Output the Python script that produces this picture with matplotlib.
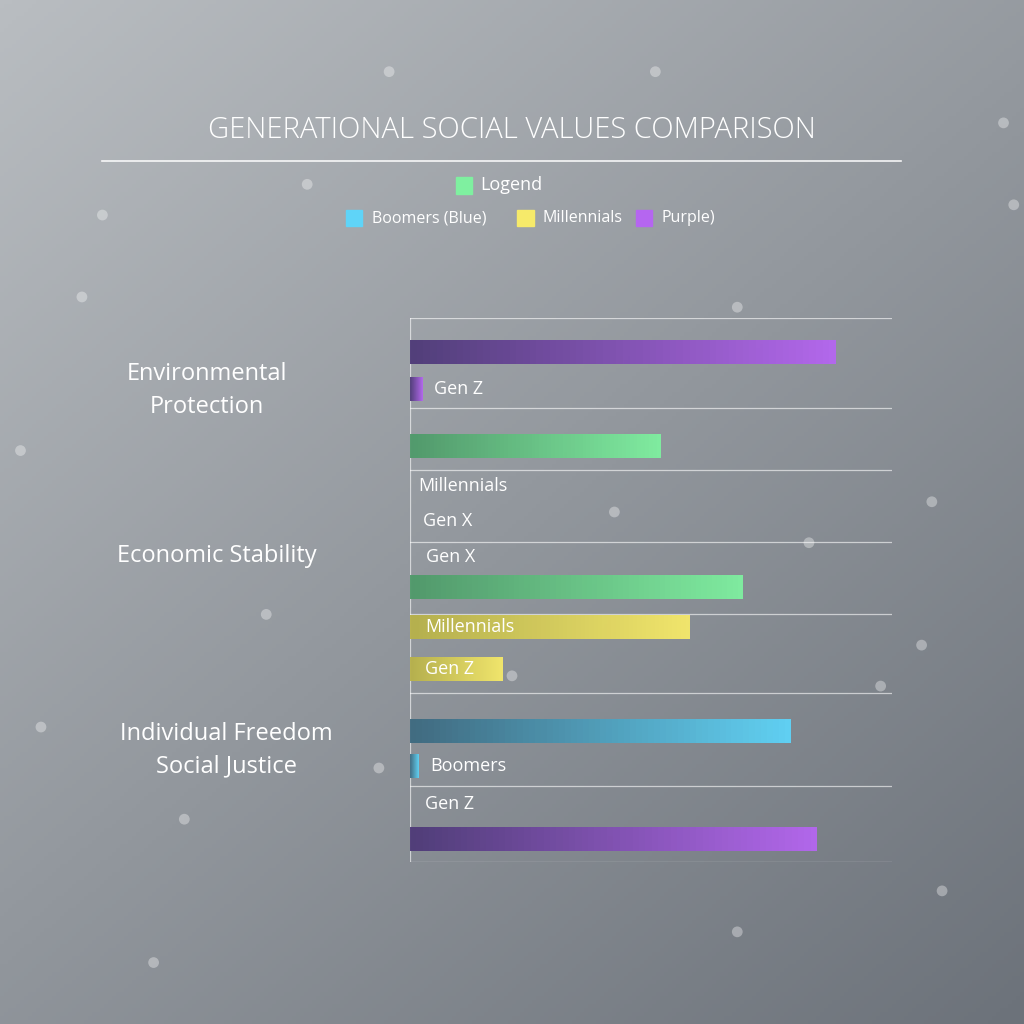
import matplotlib.pyplot as plt
import numpy as np
from matplotlib.colors import LinearSegmentedColormap

plt.rcParams['font.family'] = ['Open Sans', 'DejaVu Sans']

# bar data (value on 0-100 scale, row centre on 0-544 scale from top)
bar_rows = [34, 71, 128, 269, 309, 351, 413, 448, 521]
bar_values = [88.2, 2.5, 51.9, 68.9, 57.9, 19.1, 78.8, 1.7, 84.2]
bar_kinds = ['purple', 'purple', 'green', 'green', 'yellow', 'yellow', 'blue', 'blue', 'purple']
bar_labels = ['', 'Gen Z', '', '', 'Millennials', 'Gen Z', '', 'Boomers', '']

# loose labels without bars
free_labels = ['Millennials', 'Gen X', 'Gen X', 'Gen Z']
free_rows = [168, 203, 239, 486]
free_x = [1.7, 2.7, 3.5, 3.1]

grid_rows = [0, 90, 152, 224, 296, 375, 468, 544]

categories = ['Environmental\nProtection', 'Economic Stability', 'Individual Freedom\nSocial Justice']
category_rows = [72, 238, 432]
category_x = [-42, -40, -38]

colors = {
    'purple': ('#4e3a78', '#b566f0'),
    'green': ('#4f9a6a', '#7ff0a0'),
    'yellow': ('#b8b24a', '#f6ea6a'),
    'blue': ('#3d6a80', '#5fd4f8'),
}

fig = plt.figure(figsize=(10.24, 10.24), dpi=100)

# background gradient, light top-left to dark bottom-right
bg = fig.add_axes([0, 0, 1, 1])
yy, xx = np.mgrid[0:1:256j, 0:1:256j]
grad = 0.45 * xx + 0.55 * yy
bg_cmap = LinearSegmentedColormap.from_list('bg', ['#b9bdc1', '#6c727a'])
bg.imshow(grad, cmap=bg_cmap, extent=[0, 1, 0, 1], aspect='auto', origin='upper')
dots_x = [0.38, 0.64, 0.10, 0.30, 0.08, 0.72, 0.98, 0.91, 0.79, 0.02, 0.90, 0.26, 0.86, 0.50, 0.18, 0.04, 0.72, 0.15, 0.92, 0.99, 0.60, 0.37]
dots_y = [0.93, 0.93, 0.79, 0.82, 0.71, 0.70, 0.88, 0.51, 0.47, 0.56, 0.37, 0.40, 0.33, 0.34, 0.20, 0.29, 0.09, 0.06, 0.13, 0.80, 0.50, 0.25]
bg.scatter(dots_x, dots_y, s=60, color='white', alpha=0.35, edgecolors='none')
bg.set_xlim(0, 1)
bg.set_ylim(0, 1)
bg.axis('off')

fig.text(0.5, 0.873, 'GENERATIONAL SOCIAL VALUES COMPARISON', ha='center', va='center',
         color='white', fontsize=21, fontweight='light')
fig.add_artist(plt.Line2D([0.1, 0.88], [0.843, 0.843], color='white', lw=1.2, alpha=0.9))

# legend
fig.patches.append(plt.Rectangle((0.445, 0.811), 0.016, 0.016, color='#7ff0a0', transform=fig.transFigure))
fig.text(0.469, 0.819, 'Logend', color='white', fontsize=13, va='center')
leg = [('Boomers (Blue)', '#5fd4f8', 0.338), ('Millennials', '#f6ea6a', 0.505), ('Purple)', '#b566f0', 0.621)]
for txt, c, x in leg:
    fig.patches.append(plt.Rectangle((x, 0.779), 0.016, 0.016, color=c, transform=fig.transFigure))
    fig.text(x + 0.025, 0.787, txt, color='white', fontsize=11.5, va='center')

ax = fig.add_axes([0.4, 0.158, 0.471, 0.531])
ax.patch.set_alpha(0)
for r in grid_rows:
    ax.axhline(r, color='white', lw=0.9, alpha=0.6)
ax.axvline(0, color='white', lw=0.9, alpha=0.6)

h = 24
for row, val, kind, lab in zip(bar_rows, bar_values, bar_kinds, bar_labels):
    cm = LinearSegmentedColormap.from_list(kind, colors[kind])
    ax.imshow(np.linspace(0, 1, 64).reshape(1, -1), cmap=cm, aspect='auto',
              extent=[0, val, row + h / 2, row - h / 2], alpha=0.95, zorder=2)
    if lab:
        x = 3.2 if val > 10 else val + 2.5
        ax.text(x, row, lab, color='white', fontsize=13, va='center', zorder=3)

for lab, row, x in zip(free_labels, free_rows, free_x):
    ax.text(x, row, lab, color='white', fontsize=13, va='center')

for cat, row, x in zip(categories, category_rows, category_x):
    ax.text(x, row, cat, color='white', fontsize=17, ha='center', va='center',
            linespacing=1.5, clip_on=False)

ax.set_xticks([])
ax.set_yticks([])
for s in ax.spines.values():
    s.set_visible(False)
ax.set_xlim(0, 100)
ax.set_ylim(544, 0)

fig.savefig('out.png', dpi=100)
